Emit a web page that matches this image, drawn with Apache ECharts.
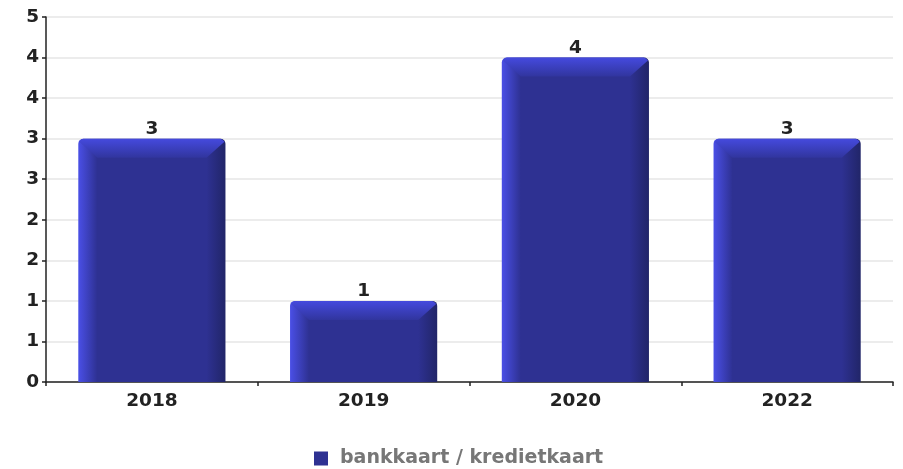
<!DOCTYPE html>
<html>
<head>
<meta charset="utf-8">
<script src="https://cdn.jsdelivr.net/npm/echarts@6/dist/echarts.min.js"></script>
<style>
  html, body { margin: 0; padding: 0; background: #fff; }
  #chart { width: 903px; height: 469px; }
</style>
</head>
<body>
<div id="chart"></div>
<script>
// data
const years = ['2018', '2019', '2020', '2022'];
const counts = [3, 1, 4, 3];
const yTickLabels = ['0', '1', '1', '2', '2', '3', '3', '4', '4', '5'];
const seriesName = 'bankkaart / kredietkaart';

const FONT = 'DejaVu Sans';
const FACE = '#2e3192';

const chart = echarts.init(document.getElementById('chart'));

// bar with a bevel, drawn from the axis scales
function renderBar(params, api) {
  const idx = api.value(0);
  const val = api.value(1);
  const top = api.coord([idx, val]);
  const base = api.coord([idx, 0]);
  const band = api.size([1, 0])[0];
  const w = band * 0.695;
  const x0 = top[0] - w / 2;
  const x1 = top[0] + w / 2;
  const yT = top[1];
  const yB = base[1];
  const b = 19;
  const r = 5;
  return {
    type: 'group',
    children: [
      {
        type: 'rect',
        shape: { x: x0, y: yT, width: w, height: yB - yT, r: [r, r, 0, 0] },
        style: {
          fill: new echarts.graphic.LinearGradient(0, 0, 1, 0, [
            { offset: 0, color: '#4a4fe6' },
            { offset: b / w, color: FACE },
            { offset: 1 - b / w, color: FACE },
            { offset: 1, color: '#212568' }
          ])
        }
      },
      {
        type: 'polygon',
        shape: {
          points: [
            [x0 + 1, yT + 3], [x0 + 3, yT + 1], [x0 + 5, yT],
            [x1 - 5, yT], [x1 - 3, yT + 1], [x1 - 1, yT + 3],
            [x1 - b, yT + b], [x0 + b, yT + b]
          ]
        },
        style: {
          fill: new echarts.graphic.LinearGradient(0, 0, 0, 1, [
            { offset: 0, color: '#454ade' },
            { offset: 1, color: '#31359e' }
          ])
        }
      },
      {
        type: 'text',
        style: {
          x: top[0],
          y: yT,
          text: String(val),
          align: 'center',
          verticalAlign: 'bottom',
          font: 'bold 18.5px "' + FONT + '"',
          fill: '#222'
        }
      }
    ]
  };
}

const option = {
  animation: false,
  grid: { left: 46, right: 10, top: 17, bottom: 87 },
  legend: {
    top: 449,
    left: 314,
    itemWidth: 14,
    itemHeight: 14,
    itemGap: 10,
    padding: 0,
    icon: 'rect',
    textStyle: {
      fontFamily: FONT, fontWeight: 'bold', fontSize: 19, color: '#777',
      padding: [0, 0, 0, 7]
    },
    data: [{ name: seriesName, itemStyle: { color: FACE } }]
  },
  xAxis: {
    type: 'category',
    data: years,
    axisLine: { lineStyle: { color: '#222', width: 1.5 } },
    axisTick: { show: true, length: 4, lineStyle: { color: '#222', width: 1.5 } },
    axisLabel: { fontFamily: FONT, fontWeight: 'bold', fontSize: 18.5, color: '#222', margin: 10 },
    splitLine: { show: false }
  },
  yAxis: {
    type: 'value',
    min: 0,
    max: 4.5,
    interval: 0.5,
    axisLine: { show: true, lineStyle: { color: '#222', width: 1.5 } },
    axisTick: { show: true, length: 4, lineStyle: { color: '#222', width: 1.5 } },
    axisLabel: {
      fontFamily: FONT, fontWeight: 'bold', fontSize: 18.5, color: '#222', margin: 7,
      formatter: (v) => yTickLabels[Math.round(v / 0.5)]
    },
    splitLine: { lineStyle: { color: '#e6e6e6', width: 1.5 } }
  },
  series: [
    {
      name: seriesName,
      type: 'custom',
      renderItem: renderBar,
      itemStyle: { color: FACE },
      encode: { x: 0, y: 1 },
      data: years.map((y, i) => [i, counts[i]])
    }
  ]
};

chart.setOption(option);
</script>
</body>
</html>
